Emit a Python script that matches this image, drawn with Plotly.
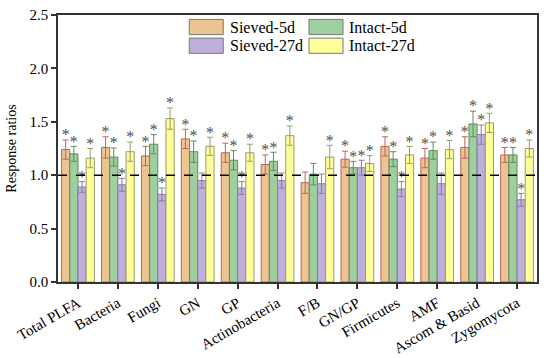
import plotly.graph_objects as go

categories = ["Total PLFA", "Bacteria", "Fungi", "GN", "GP", "Actinobacteria",
              "F/B", "GN/GP", "Firmicutes", "AMF", "Ascom & Basid", "Zygomycota"]

series_names = ["Sieved-5d", "Intact-5d", "Sieved-27d", "Intact-27d"]

sieved_5d = [1.24, 1.26, 1.18, 1.34, 1.21, 1.10, 0.93, 1.15, 1.27, 1.16, 1.26, 1.19]
intact_5d = [1.20, 1.17, 1.29, 1.22, 1.14, 1.13, 1.01, 1.07, 1.15, 1.23, 1.48, 1.19]
sieved_27d = [0.89, 0.91, 0.82, 0.95, 0.88, 0.95, 0.92, 1.07, 0.87, 0.92, 1.38, 0.77]
intact_27d = [1.16, 1.22, 1.53, 1.27, 1.21, 1.37, 1.17, 1.11, 1.19, 1.24, 1.49, 1.25]

sieved_5d_err = [0.09, 0.10, 0.09, 0.09, 0.09, 0.09, 0.10, 0.075, 0.09, 0.09, 0.10, 0.07]
intact_5d_err = [0.07, 0.085, 0.09, 0.10, 0.09, 0.085, 0.10, 0.06, 0.07, 0.08, 0.12, 0.07]
sieved_27d_err = [0.05, 0.06, 0.06, 0.07, 0.06, 0.07, 0.09, 0.07, 0.07, 0.10, 0.09, 0.06]
intact_27d_err = [0.09, 0.09, 0.10, 0.085, 0.08, 0.09, 0.11, 0.075, 0.08, 0.085, 0.09, 0.08]

# significance markers (1 = asterisk shown)
sieved_5d_sig = [1, 1, 1, 1, 1, 1, 0, 1, 1, 1, 1, 1]
intact_5d_sig = [1, 1, 1, 1, 1, 1, 0, 1, 1, 1, 1, 1]
sieved_27d_sig = [1, 1, 1, 0, 1, 0, 0, 1, 1, 0, 1, 1]
intact_27d_sig = [1, 1, 1, 1, 1, 1, 1, 1, 1, 1, 1, 1]

y_ticks = [0.0, 0.5, 1.0, 1.5, 2.0, 2.5]

values = [sieved_5d, intact_5d, sieved_27d, intact_27d]
errors = [sieved_5d_err, intact_5d_err, sieved_27d_err, intact_27d_err]
sigs = [sieved_5d_sig, intact_5d_sig, sieved_27d_sig, intact_27d_sig]

fill_colors = ["#EBC48F", "#9FCF9E", "#BEAFDB", "#FFFF99"]
edge_colors = ["#B5675C", "#5E8C5E", "#8A7AA8", "#9A9A70"]

FONT = "Liberation Serif"
bar_w = 0.205
offsets = [(j - 1.5) * bar_w for j in range(4)]
star_gap = 0.035

fig = go.Figure()
for j in range(4):
    xs = [i + offsets[j] for i in range(len(categories))]
    fig.add_trace(go.Bar(
        x=xs, y=values[j], width=bar_w, name=series_names[j],
        marker=dict(color=fill_colors[j], line=dict(color=edge_colors[j], width=1)),
        error_y=dict(type="data", array=errors[j], visible=True,
                     color=edge_colors[j], thickness=1, width=3),
        showlegend=False,
    ))
for j in range(4):
    xs, ys = [], []
    for i in range(len(categories)):
        if sigs[j][i]:
            xs.append(i + offsets[j])
            ys.append(values[j][i] + errors[j][i] + star_gap)
    fig.add_trace(go.Scatter(
        x=xs, y=ys, mode="text", text=["*"] * len(xs),
        textposition="middle center",
        textfont=dict(family=FONT, size=16, color="#505050"),
        showlegend=False, hoverinfo="skip",
    ))

# reference line at ratio 1
fig.add_shape(type="line", xref="paper", x0=0, x1=1, yref="y", y0=1, y1=1,
              line=dict(color="black", width=1.5, dash="dash"))

# manual legend (large swatches)
leg_x = [0.274, 0.524]
leg_y = [0.955, 0.885]
sw_w, sw_h = 0.071, 0.057
for k, name in enumerate(series_names):
    col = k % 2
    row = k // 2
    x0 = leg_x[col]
    yc = leg_y[row]
    fig.add_shape(type="rect", xref="paper", yref="paper",
                  x0=x0, x1=x0 + sw_w, y0=yc - sw_h / 2, y1=yc + sw_h / 2,
                  fillcolor=fill_colors[k], line=dict(color="#777777", width=1))
    fig.add_annotation(xref="paper", yref="paper", x=x0 + sw_w + 0.009, y=yc,
                       text=name, showarrow=False, xanchor="left", yanchor="middle",
                       font=dict(family=FONT, size=16, color="black"))

fig.update_layout(
    width=550, height=358,
    margin=dict(l=58, r=13, t=15, b=76),
    paper_bgcolor="white", plot_bgcolor="white",
    barmode="overlay",
    font=dict(family=FONT, size=15, color="black"),
    xaxis=dict(
        range=[-0.5, len(categories) - 0.5], automargin=False,
        tickmode="array", tickvals=list(range(len(categories))), ticktext=categories,
        tickangle=-30, ticks="outside", ticklen=5, tickwidth=1.5, tickcolor="#333",
        showline=True, linecolor="#333", linewidth=1.5, mirror=True,
        showgrid=False, zeroline=False,
        tickfont=dict(family=FONT, size=15, color="black"),
    ),
    yaxis=dict(
        range=[0, 2.5], tickmode="array", tickvals=y_ticks, automargin=False,
        ticktext=[f"{v:.1f}" for v in y_ticks],
        ticks="outside", ticklen=5, tickwidth=1.5, tickcolor="#333",
        showline=True, linecolor="#333", linewidth=1.5, mirror=True,
        showgrid=False, zeroline=False,
        title=dict(text="Response ratios", font=dict(family=FONT, size=14), standoff=10),
        tickfont=dict(family=FONT, size=15, color="black"),
    ),
)

# remove the default 8px page margin so the figure fills the 550x358 window exactly
fig.write_html("out.html", config={"displayModeBar": False},
               post_script="document.body.style.margin='0';")
